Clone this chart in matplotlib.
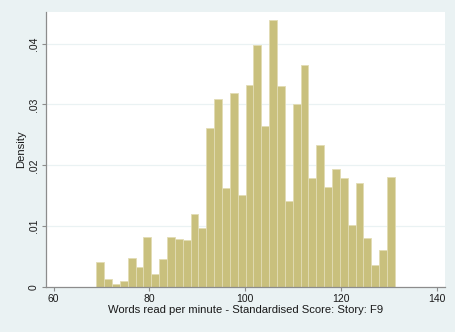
import numpy as np
import matplotlib
matplotlib.use("Agg")
import matplotlib.pyplot as plt

# histogram: first bin start, bin width, densities
bin_start = 68.9
bin_width = 1.64
density = [0.00405, 0.00131, 0.00055, 0.00104, 0.00476, 0.00334, 0.00821, 0.00208,
           0.00454, 0.00821, 0.00782, 0.00766, 0.01193, 0.00969, 0.02621, 0.03086,
           0.01625, 0.03196, 0.01510, 0.03327, 0.03984, 0.02643, 0.04394, 0.03300,
           0.01406, 0.03015, 0.03655, 0.01789, 0.02326, 0.01636, 0.01932, 0.01789,
           0.01018, 0.01707, 0.00799, 0.00367, 0.00602, 0.01806]
x_ticks = [60, 80, 100, 120, 140]
y_ticks = [0, 0.01, 0.02, 0.03, 0.04]
y_labels = ["0", ".01", ".02", ".03", ".04"]

plt.rcParams['font.family'] = ['Liberation Sans', 'DejaVu Sans']

bg = "#EAF2F3"
fig = plt.figure(figsize=(4.56, 3.32), dpi=100, facecolor=bg)
ax = fig.add_axes([0.0998, 0.1355, 0.8762, 0.8284])
ax.set_facecolor("white")

left = bin_start + bin_width * np.arange(len(density))
ax.bar(left, density, width=bin_width, align="edge", color="#C9C07D",
       edgecolor="#E2DCB4", linewidth=0.6, zorder=2)

ax.set_xlim(58.3, 141.7)
ax.set_ylim(0, 0.0452)
ax.set_xticks(x_ticks)
ax.set_yticks(y_ticks)
ax.set_yticklabels(y_labels, rotation=90, va="center")
for y in y_ticks[1:]:
    ax.axhline(y, color=bg, linewidth=0.9, zorder=1)

for s in ["top", "right"]:
    ax.spines[s].set_visible(False)
for s in ["left", "bottom"]:
    ax.spines[s].set_color("#8C8C8C")
    ax.spines[s].set_linewidth(0.9)
ax.tick_params(axis="both", colors="#8C8C8C", length=3, width=0.8, labelsize=7.5, labelcolor="#1A1A1A", pad=2)

ax.set_xlabel("Words read per minute - Standardised Score: Story: F9", fontsize=8.1, color="#1A1A1A", labelpad=1)
ax.set_ylabel("Density", fontsize=8.1, color="#1A1A1A", labelpad=2)

fig.savefig("out.png", dpi=100, facecolor=bg)
